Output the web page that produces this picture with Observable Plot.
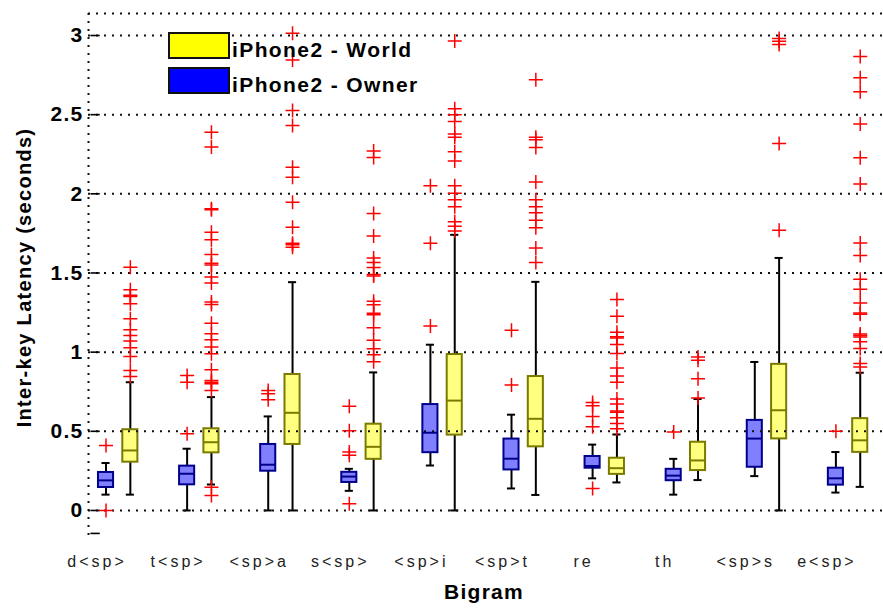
<!DOCTYPE html>
<html><head><meta charset="utf-8">
<script src="https://cdn.jsdelivr.net/npm/d3@7"></script>
<script src="https://cdn.jsdelivr.net/npm/@observablehq/plot@0.6"></script>
<style>
body{margin:0;background:#fff;}
#wrap{position:relative;width:883px;height:608px;font-family:"Liberation Sans",Arial,sans-serif;}
#wrap svg{position:absolute;left:0;top:0;}
.patch{position:absolute;left:168px;width:62px;height:27px;box-sizing:border-box;border:2px solid #111;}
.legt{position:absolute;left:232px;font-weight:bold;font-size:21px;line-height:21px;letter-spacing:1.4px;white-space:nowrap;color:#000;}
</style></head><body>
<div id="wrap"></div>
<script>
// ---- data (seconds) ----
const bigrams = ["d<sp>","t<sp>","<sp>a","s<sp>","<sp>i","<sp>t","re","th","<sp>s","e<sp>"];
const series = ["iPhone2 - World","iPhone2 - Owner"];

// iPhone2 - Owner (blue)
const ownerLo  = [0.10, 0.00, 0.00, 0.124, 0.284, 0.139, 0.203, 0.10, 0.217, 0.113];
const ownerQ1  = [0.145,0.162,0.248,0.177, 0.365, 0.256, 0.267, 0.188,0.273, 0.16];
const ownerMed = [0.19, 0.232,0.289,0.214, 0.491, 0.327, 0.281, 0.22, 0.454, 0.203];
const ownerQ3  = [0.24, 0.28, 0.417,0.241, 0.669, 0.451, 0.341, 0.26, 0.569, 0.267];
const ownerHi  = [0.30, 0.39, 0.594,0.263, 1.047, 0.605, 0.416, 0.326,0.938, 0.369];
const ownerOut = [
  [0.41, 0.0],
  [0.853, 0.81, 0.484],
  [0.758, 0.737, 0.699],
  [0.658, 0.504, 0.37, 0.348, 0.043],
  [2.051, 1.688, 1.165],
  [1.139, 0.793],
  [0.682, 0.661, 0.593, 0.529, 0.139],
  [0.495],
  [],
  [0.501]
];

// iPhone2 - World (yellow)
const worldLo  = [0.10, 0.164,0.00, 0.00, 0.00, 0.098, 0.177, 0.192, 0.00, 0.149];
const worldQ1  = [0.305,0.364,0.417,0.323,0.476,0.402, 0.228, 0.252, 0.452,0.367];
const worldMed = [0.379,0.431,0.617,0.402,0.694,0.579, 0.267, 0.316, 0.633,0.443];
const worldQ3  = [0.51, 0.516,0.859,0.545,0.985,0.846, 0.33,  0.431, 0.923,0.58];
const worldHi  = [0.81, 0.716,1.442,0.872,1.741,1.444, 0.48,  0.704, 1.595,0.87];
const worldOut = [
  [1.537,1.394,1.36,1.352,1.305,1.211,1.141,1.105,1.07,1.027,0.973,0.884,0.846],
  [2.389,2.295,1.905,1.9,1.758,1.71,1.617,1.562,1.55,1.474,1.436,1.316,1.301,1.183,1.116,1.078,1.032,0.99,0.889,0.821,0.81,0.80,0.758,0.147,0.095],
  [3.015,2.846,2.526,2.432,2.168,2.105,1.947,1.789,1.688,1.678,1.663],
  [2.271,2.229,1.876,1.733,1.594,1.566,1.534,1.491,1.481,1.321,1.299,1.246,1.236,1.154,1.075,1.021,0.983,0.94],
  [2.966,2.538,2.5,2.457,2.378,2.357,2.265,2.207,2.051,2.004,1.962,1.919,1.823,1.795,1.765],
  [2.72,2.357,2.342,2.293,2.075,1.962,1.919,1.88,1.833,1.786,1.658,1.566],
  [1.333,1.226,1.126,1.098,1.09,1.049,0.991,0.9,0.849,0.81,0.704,0.672,0.629,0.62,0.586,0.55,0.516],
  [0.97,0.949,0.832,0.71],
  [2.981,2.964,2.943,2.318,1.77],
  [2.868,2.733,2.644,2.441,2.228,2.062,1.689,1.61,1.461,1.397,1.311,1.247,1.24,1.115,1.105,1.095,1.066,1.023,0.928,0.906]
];

const yTicks = [0, 0.5, 1, 1.5, 2, 2.5, 3];
const yExtraTick = [-0.145];
const xTitle = "Bigram";
const yTitle = "Inter-key Latency (seconds)";

// ---- build tables ----
const xDomain = [-0.216, 9.587];
const yDomain = [-0.196, 3.139];
const worldOffset = 0.3;
const boxes = [];
const outliers = [];
bigrams.forEach((b, i) => {
  boxes.push({bigram: b, s: "owner", pos: i, lo: ownerLo[i], q1: ownerQ1[i], med: ownerMed[i], q3: ownerQ3[i], hi: ownerHi[i]});
  boxes.push({bigram: b, s: "world", pos: i + worldOffset, lo: worldLo[i], q1: worldQ1[i], med: worldMed[i], q3: worldQ3[i], hi: worldHi[i]});
  ownerOut[i].forEach(v => outliers.push({pos: i, v}));
  worldOut[i].forEach(v => outliers.push({pos: i + worldOffset, v}));
});
const owner = boxes.filter(d => d.s === "owner");
const world = boxes.filter(d => d.s === "world");

const hw = 0.093, cw = 0.05;
const cross = {
  draw(ctx, size) {
    const r = Math.sqrt(size / Math.PI);
    ctx.moveTo(-r, 0); ctx.lineTo(r, 0);
    ctx.moveTo(0, -r); ctx.lineTo(0, r);
  }
};
const dotted = {stroke: "#111", strokeWidth: 2, strokeDasharray: "2,6"};

const chart = Plot.plot({
  width: 883, height: 608,
  marginLeft: 88, marginRight: 0, marginTop: 13, marginBottom: 67,
  x: {domain: xDomain, axis: null},
  y: {domain: yDomain, axis: null},
  style: {fontFamily: "Liberation Sans, Arial, sans-serif", background: "white", overflow: "visible"},
  marks: [
    // whiskers
    Plot.ruleX(boxes, {x: "pos", y1: "q3", y2: "hi", stroke: "#000", strokeWidth: 2}),
    Plot.ruleX(boxes, {x: "pos", y1: "lo", y2: "q1", stroke: "#000", strokeWidth: 2}),
    Plot.ruleY(boxes, {y: "hi", x1: d => d.pos - cw, x2: d => d.pos + cw, stroke: "#000", strokeWidth: 2}),
    Plot.ruleY(boxes, {y: "lo", x1: d => d.pos - cw, x2: d => d.pos + cw, stroke: "#000", strokeWidth: 2}),
    // boxes
    Plot.rect(owner, {x1: d => d.pos - hw, x2: d => d.pos + hw, y1: "q1", y2: "q3", fill: "#8080ff", stroke: "#00008b", strokeWidth: 2}),
    Plot.rect(world, {x1: d => d.pos - hw, x2: d => d.pos + hw, y1: "q1", y2: "q3", fill: "#ffff80", stroke: "#7a7a00", strokeWidth: 2}),
    Plot.ruleY(owner, {y: "med", x1: d => d.pos - hw, x2: d => d.pos + hw, stroke: "#00008b", strokeWidth: 2}),
    Plot.ruleY(world, {y: "med", x1: d => d.pos - hw, x2: d => d.pos + hw, stroke: "#7a7a00", strokeWidth: 2}),
    // grid on top
    Plot.ruleY(yTicks, dotted),
    Plot.ruleY([yDomain[1]], dotted),
    Plot.ruleX([xDomain[0]], dotted),
    // tick marks
    Plot.ruleY(yTicks.concat(yExtraTick), {x1: xDomain[0] + 0.03, x2: xDomain[0] + 0.145, stroke: "#000", strokeWidth: 1.6}),
    // outliers
    Plot.dot(outliers, {x: "pos", y: "v", symbol: cross, r: 7, fill: "none", stroke: "#ff0000", strokeWidth: 1.5}),
    // tick labels
    Plot.text(yTicks, {x: xDomain[0], y: d => d, text: d => String(d), textAnchor: "end", dx: -5, fontWeight: "bold", fontSize: 21, fill: "#000"}),
    Plot.text(bigrams, {x: (d, i) => i, text: d => d, frameAnchor: "bottom", lineAnchor: "top", dy: 14, dx: -9, fontSize: 16, fill: "#222"}),
    // titles
    Plot.text([yTitle], {frameAnchor: "left", textAnchor: "middle", lineAnchor: "middle", dx: -64, rotate: -90, fontWeight: "bold", fontSize: 20, fill: "#000"}),
    Plot.text([xTitle], {frameAnchor: "bottom", textAnchor: "middle", lineAnchor: "middle", dy: 51, dx: -2, fontWeight: "bold", fontSize: 21, fill: "#000"})
  ]
});

d3.select(chart).selectAll('g[font-weight="bold"]').attr("letter-spacing", "1.3px");
d3.select(chart).selectAll('g[font-size="16"]').attr("letter-spacing", "3px");

const wrap = document.getElementById("wrap");
wrap.appendChild(chart);
// legend (inside the axes, top left)
const legendColors = ["#ffff00", "#0000ff"];
const legendTops = [32, 67];
series.forEach((s, k) => {
  const p = document.createElement("div");
  p.className = "patch";
  p.style.top = legendTops[k] + "px";
  p.style.background = legendColors[k];
  wrap.appendChild(p);
  const t = document.createElement("div");
  t.className = "legt";
  t.style.top = (legendTops[k] + 7) + "px";
  t.textContent = s;
  wrap.appendChild(t);
});
</script>
</body></html>
